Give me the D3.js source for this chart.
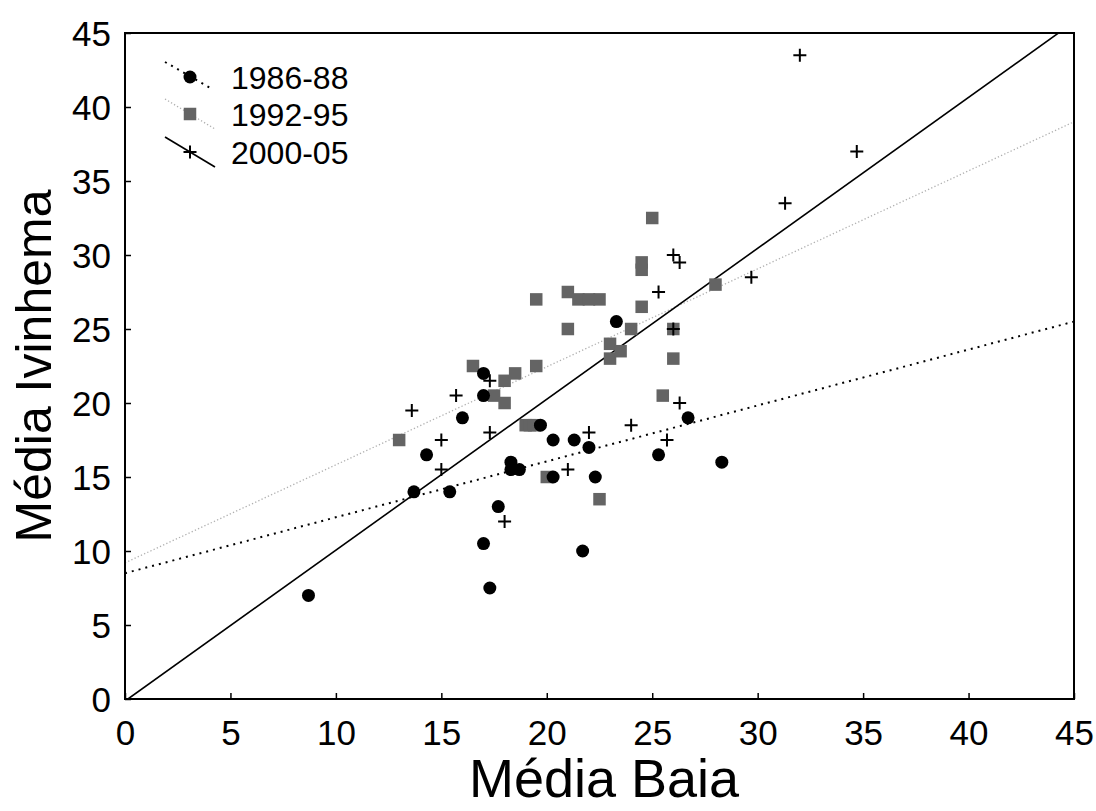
<!DOCTYPE html>
<html>
<head>
<meta charset="utf-8">
<script src="https://cdn.jsdelivr.net/npm/d3@7"></script>
<style>
  html, body { margin: 0; padding: 0; background: #fff; }
  svg { display: block; font-family: "Liberation Sans", Arial, sans-serif; }
</style>
</head>
<body>
<svg id="chart" width="1096" height="811"></svg>
<script>
// ---- data ----
const xTicks = [0, 5, 10, 15, 20, 25, 30, 35, 40, 45];
const yTicks = [0, 5, 10, 15, 20, 25, 30, 35, 40, 45];
const seriesNames = ["1986-88", "1992-95", "2000-05"];

const pts1986 = [
  [8.7, 7.0], [13.7, 14.0], [14.3, 16.5], [15.4, 14.0], [16.0, 19.0],
  [17.0, 22.0], [17.0, 20.5], [17.0, 10.5], [17.3, 7.5], [17.7, 13.0],
  [18.3, 16.0], [18.3, 15.5], [18.7, 15.5], [19.7, 18.5], [20.3, 17.5],
  [20.3, 15.0], [21.3, 17.5], [21.7, 10.0], [22.0, 17.0], [22.3, 15.0],
  [23.3, 25.5], [25.3, 16.5], [26.7, 19.0], [28.3, 16.0]
];
const pts1992 = [
  [13.0, 17.5], [16.5, 22.5], [17.5, 20.5], [18.0, 21.5], [18.0, 20.0],
  [18.5, 22.0], [19.0, 18.5], [19.2, 18.5], [19.4, 18.5], [19.5, 22.5],
  [19.5, 27.0], [20.0, 15.0], [21.0, 25.0], [21.0, 27.5], [21.5, 27.0],
  [22.0, 27.0], [22.5, 27.0], [22.5, 13.5], [23.0, 24.0], [23.0, 23.0],
  [23.5, 23.5], [24.0, 25.0], [24.5, 26.5], [24.5, 29.0], [24.5, 29.5],
  [25.0, 32.5], [25.5, 20.5], [26.0, 25.0], [26.0, 23.0], [28.0, 28.0]
];
const pts2000 = [
  [13.6, 19.5], [15.0, 17.5], [15.0, 15.5], [15.7, 20.5], [17.3, 21.5],
  [17.3, 18.0], [18.0, 12.0], [21.0, 15.5], [22.0, 18.0], [24.0, 18.5],
  [25.3, 27.5], [25.7, 17.5], [26.0, 30.0], [26.0, 25.0], [26.3, 29.5],
  [26.3, 20.0], [29.7, 28.5], [31.3, 33.5], [32.0, 43.5], [34.7, 37.0]
];
// fitted lines (x, y)
const fit1986 = [[0, 8.5], [45, 25.5]];
const fit1992 = [[0, 9.2], [45, 39.0]];
const fit2000 = [[0.14, 0], [45, 45.75]];

// ---- layout ----
const svg = d3.select("#chart");
const pL = 125, pR = 1074, pT = 33, pB = 699;
const x = d3.scaleLinear().domain([0, 45]).range([pL, pR]);
const y = d3.scaleLinear().domain([0, 45]).range([pB, pT]);

svg.append("defs").append("clipPath").attr("id", "plotclip")
  .append("rect").attr("x", pL).attr("y", pT)
  .attr("width", pR - pL).attr("height", pB - pT);

// fit lines
const line = d3.line().x(d => x(d[0])).y(d => y(d[1]));
const lg = svg.append("g").attr("clip-path", "url(#plotclip)");
lg.append("path").datum(fit1992).attr("d", line)
  .attr("fill", "none").attr("stroke", "#b0b0b0").attr("stroke-width", 1.3)
  .attr("stroke-dasharray", "1.3,2.2");
lg.append("path").datum(fit1986).attr("d", line)
  .attr("fill", "none").attr("stroke", "#000").attr("stroke-width", 2)
  .attr("stroke-dasharray", "2,5");
lg.append("path").datum(fit2000).attr("d", line)
  .attr("fill", "none").attr("stroke", "#000").attr("stroke-width", 1.6);

// markers
const gray = "#646464";
const sq = 12.5, rad = 6.5, pl = 6.5;
function plus(g, cx, cy) {
  g.append("path")
    .attr("d", `M${cx - pl},${cy}H${cx + pl}M${cx},${cy - pl}V${cy + pl}`)
    .attr("stroke", "#000").attr("stroke-width", 2).attr("fill", "none");
}
const mg = svg.append("g");
mg.selectAll("rect.s").data(pts1992).join("rect").attr("class", "s")
  .attr("x", d => x(d[0]) - sq / 2).attr("y", d => y(d[1]) - sq / 2)
  .attr("width", sq).attr("height", sq).attr("fill", gray);
mg.selectAll("circle.c").data(pts1986).join("circle").attr("class", "c")
  .attr("cx", d => x(d[0])).attr("cy", d => y(d[1])).attr("r", rad).attr("fill", "#000");
pts2000.forEach(d => plus(mg, x(d[0]), y(d[1])));

// frame
svg.append("rect").attr("x", pL).attr("y", pT)
  .attr("width", pR - pL).attr("height", pB - pT)
  .attr("fill", "none").attr("stroke", "#000").attr("stroke-width", 2);

// axes (ticks inward)
const xAxis = d3.axisBottom(x).tickValues(xTicks).tickSize(-6).tickPadding(24);
const yAxis = d3.axisLeft(y).tickValues(yTicks).tickSize(-6).tickPadding(20);
const gx = svg.append("g").attr("transform", `translate(0,${pB})`).call(xAxis);
const gy = svg.append("g").attr("transform", `translate(${pL},0)`).call(yAxis);
[gx, gy].forEach(g => {
  g.select(".domain").remove();
  g.selectAll(".tick line").attr("stroke", "#000").attr("stroke-width", 1.5);
  g.selectAll(".tick text").attr("fill", "#000")
    .style("font-size", "35px").style("font-family", '"Liberation Sans", Arial, sans-serif');
});
gx.selectAll(".tick text").attr("dy", "0.71em").attr("y", 21);
gy.selectAll(".tick text").attr("x", -14).attr("dy", "0.36em");

// axis titles
svg.append("text").attr("x", 604).attr("y", 797)
  .attr("text-anchor", "middle").style("font-size", "54px").text("Média Baia");
svg.append("text").attr("transform", `translate(51,${(pT + pB) / 2}) rotate(-90)`)
  .attr("text-anchor", "middle").style("font-size", "50px").text("Média Ivinhema");

// legend
const legend = svg.append("g");
const legRows = [
  { name: seriesNames[0], y: 77, l: [[165, 62], [212, 89]], dash: "2,5", color: "#000", w: 2, mark: "circle" },
  { name: seriesNames[1], y: 114, l: [[165, 99], [215, 129]], dash: "1.3,2.2", color: "#b0b0b0", w: 1.3, mark: "square" },
  { name: seriesNames[2], y: 152, l: [[165, 137], [215, 167]], dash: null, color: "#000", w: 1.6, mark: "plus" }
];
legRows.forEach(r => {
  const p = legend.append("line")
    .attr("x1", r.l[0][0]).attr("y1", r.l[0][1]).attr("x2", r.l[1][0]).attr("y2", r.l[1][1])
    .attr("stroke", r.color).attr("stroke-width", r.w);
  if (r.dash) p.attr("stroke-dasharray", r.dash);
  const mx = 190;
  if (r.mark === "circle") legend.append("circle").attr("cx", mx).attr("cy", r.y).attr("r", rad).attr("fill", "#000");
  else if (r.mark === "square") legend.append("rect").attr("x", mx - sq / 2).attr("y", r.y - sq / 2).attr("width", sq).attr("height", sq).attr("fill", gray);
  else plus(legend, mx, r.y);
  legend.append("text").attr("x", 231).attr("y", r.y).attr("dy", "0.36em")
    .style("font-size", "32px").attr("fill", "#000").text(r.name);
});
</script>
</body>
</html>
